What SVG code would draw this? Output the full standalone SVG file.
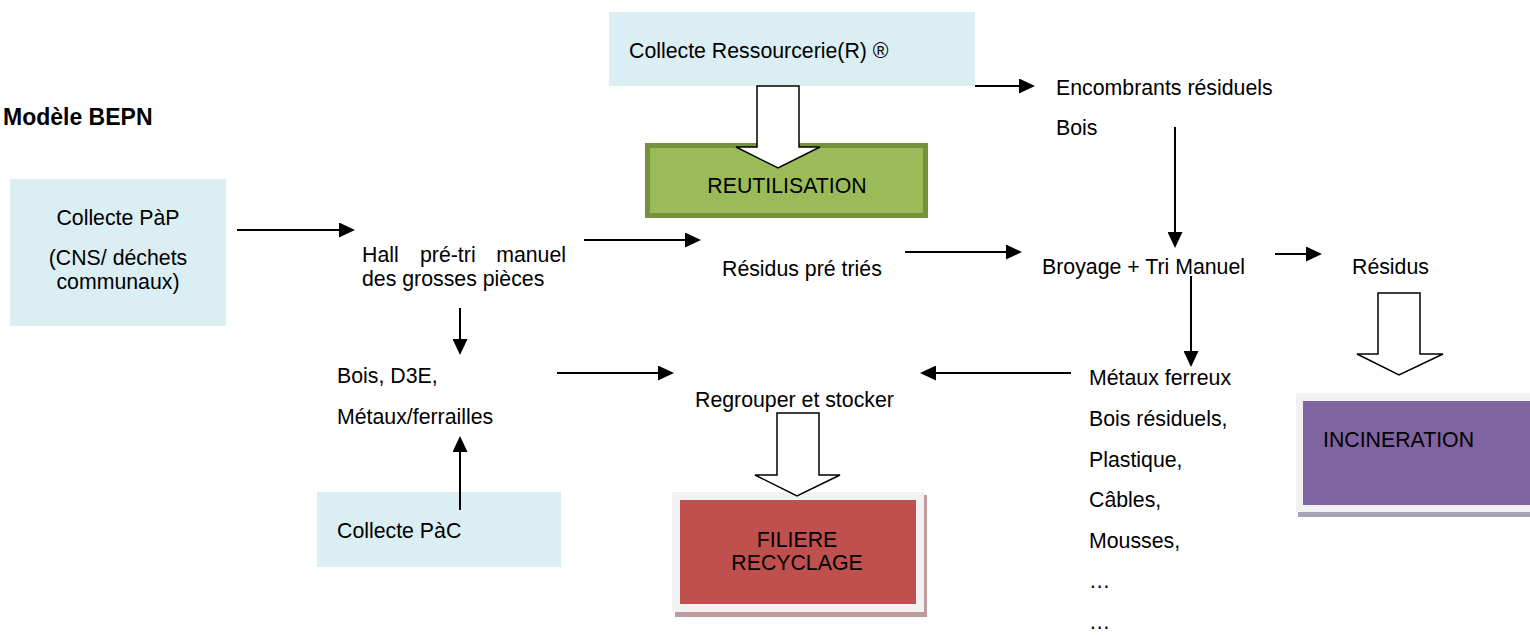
<svg xmlns="http://www.w3.org/2000/svg" width="1530" height="635" viewBox="0 0 1530 635">
  <style>
    text { font-family: "Liberation Sans", Arial, sans-serif; font-size: 21.3px; fill: #000; }
    .title { font-weight: bold; font-size: 23px; }
    .mid { text-anchor: middle; }
    .blue { fill: #DAEEF3; }
    .conn { stroke: #000; stroke-width: 2; fill: none; marker-end: url(#head); }
    .block { fill: #fff; stroke: #000; stroke-width: 1.5; stroke-linejoin: miter; }
    .frame { fill: #F2F2F2; }
  </style>
  <defs>
    <marker id="head" markerUnits="userSpaceOnUse" markerWidth="16" markerHeight="15" refX="0" refY="7.5" orient="auto">
      <path d="M0,0 L16,7.5 L0,15 z" fill="#000"/>
    </marker>
  </defs>
  <rect width="1530" height="635" fill="#fff"/>

  <g id="title"><text class="title" x="3" y="125">Modèle BEPN</text></g>

  <g id="collecte-pap">
    <rect class="blue" x="10" y="179" width="216" height="147"/>
    <text class="mid" x="118" y="225">Collecte PàP</text>
    <text class="mid" x="118" y="265">(CNS/ déchets</text>
    <text class="mid" x="118" y="289">communaux)</text>
  </g>

  <g id="collecte-ressourcerie">
    <rect class="blue" x="609" y="12" width="366" height="74"/>
    <text x="629" y="58">Collecte Ressourcerie(R) ®</text>
  </g>

  <g id="reutilisation">
    <rect x="647.5" y="145.5" width="278" height="70" fill="#9BBB59" stroke="#76923C" stroke-width="5"/>
    <text class="mid" x="787" y="193">REUTILISATION</text>
  </g>

  <g id="encombrants">
    <text x="1056" y="95">Encombrants résiduels</text>
    <text x="1056" y="135">Bois</text>
  </g>

  <g id="hall">
    <text x="362" y="262">Hall</text>
    <text x="420" y="262">pré-tri</text>
    <text x="566" y="262" text-anchor="end">manuel</text>
    <text x="362" y="286">des grosses pièces</text>
  </g>

  <g id="residus-pre-tries"><text x="722" y="276">Résidus pré triés</text></g>

  <g id="broyage"><text x="1042" y="274">Broyage + Tri Manuel</text></g>

  <g id="residus"><text x="1352" y="274">Résidus</text></g>

  <g id="bois-d3e">
    <text x="337" y="383">Bois, D3E,</text>
    <text x="337" y="424">Métaux/ferrailles</text>
  </g>

  <g id="collecte-pac">
    <rect class="blue" x="317" y="492" width="244" height="75"/>
    <text x="337" y="538">Collecte PàC</text>
  </g>

  <g id="regrouper"><text x="695" y="407">Regrouper et stocker</text></g>

  <g id="filiere-recyclage">
    <rect x="675" y="495" width="252" height="122" fill="#BF9C9C"/>
    <rect class="frame" x="672" y="492" width="252" height="120"/>
    <rect x="680" y="500" width="236" height="104" fill="#C0504D"/>
    <text class="mid" x="797" y="547">FILIERE</text>
    <text class="mid" x="797" y="570">RECYCLAGE</text>
  </g>

  <g id="incineration">
    <rect x="1298" y="396" width="240" height="121" fill="#A7A2B5"/>
    <rect class="frame" x="1296" y="393" width="240" height="119"/>
    <rect x="1303" y="401" width="235" height="104" fill="#8064A2"/>
    <text x="1323" y="447">INCINERATION</text>
  </g>

  <g id="metaux-list">
    <text x="1089" y="385">Métaux ferreux</text>
    <text x="1089" y="426">Bois résiduels,</text>
    <text x="1089" y="467">Plastique,</text>
    <text x="1089" y="507">Câbles,</text>
    <text x="1089" y="548">Mousses,</text>
    <text x="1089" y="588">…</text>
    <text x="1089" y="629">…</text>
  </g>

  <g id="connectors">
    <line class="conn" x1="237" y1="230" x2="339" y2="230"/>
    <line class="conn" x1="584" y1="240" x2="685" y2="240"/>
    <line class="conn" x1="905" y1="252" x2="1006" y2="252"/>
    <line class="conn" x1="1275" y1="254" x2="1306" y2="254"/>
    <line class="conn" x1="975" y1="86" x2="1019" y2="86"/>
    <line class="conn" x1="1175" y1="127" x2="1175" y2="232"/>
    <line class="conn" x1="1191" y1="276" x2="1191" y2="351"/>
    <line class="conn" x1="460" y1="308" x2="460" y2="339"/>
    <line class="conn" x1="460" y1="510" x2="460" y2="452"/>
    <line class="conn" x1="557" y1="373" x2="658" y2="373"/>
    <line class="conn" x1="1071" y1="373" x2="936" y2="373"/>
    <path class="block" d="M757,86 L799,86 L799,147 L820,147 L778,168 L736,147 L757,147 Z"/>
    <path class="block" d="M777,413 L819,413 L819,475 L840,475 L797,496 L755,475 L777,475 Z"/>
    <path class="block" d="M1378,293 L1420,293 L1420,354 L1443,354 L1399,375 L1357,354 L1378,354 Z"/>
  </g>
</svg>
